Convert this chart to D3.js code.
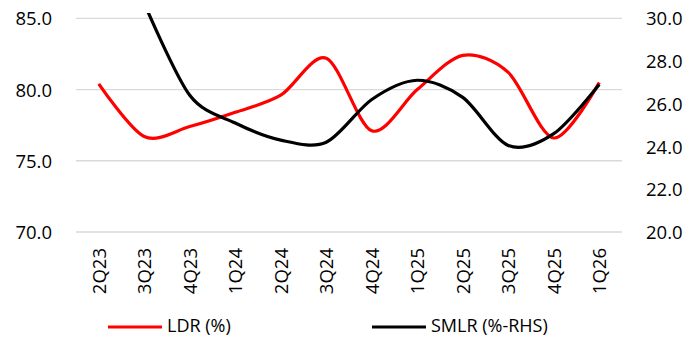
<!DOCTYPE html>
<html><head><meta charset="utf-8">
<script src="https://cdn.jsdelivr.net/npm/d3@7"></script>
<style>body{margin:0;background:#fff}text{font-family:"Open Sans","Noto Sans",sans-serif;fill:#000}</style>
</head><body><svg id="c" width="699" height="338"></svg>
<script>
const categories=["2Q23","3Q23","4Q23","1Q24","2Q24","3Q24","4Q24","1Q25","2Q25","3Q25","4Q25","1Q26"];
const ldr=[80.4,76.7,77.4,78.4,79.6,82.2,77.1,80.0,82.4,81.2,76.6,80.5];
const smlr=[null,30.7,26.4,25.1,24.3,24.2,26.2,27.1,26.3,24.05,24.6,26.9];
const leftTicks=[70,75,80,85];
const rightTicks=[20,22,24,26,28,30];
const svg=d3.select("#c");
const L=76,R=622,T=18.3,B=232;
const FS=18.5;
const x=d3.scaleBand().domain(categories).range([L,R]);
const cx=d=>x(d)+x.bandwidth()/2;
const yL=d3.scaleLinear().domain([70,85]).range([B,T]);
const yR=d3.scaleLinear().domain([20,30]).range([B,T]);
// grid
svg.append("g").selectAll("line").data(leftTicks).join("line")
 .attr("x1",L).attr("x2",R).attr("y1",d=>yL(d)).attr("y2",d=>yL(d))
 .attr("stroke","#d9d9d9").attr("stroke-width",1.3);
// left axis
const ga=svg.append("g").attr("transform",`translate(${L-21},0)`).call(d3.axisLeft(yL).tickValues(leftTicks).tickFormat(d3.format(".1f")).tickSize(0));
ga.select(".domain").remove();
ga.selectAll("text").attr("font-size",FS).attr("dy","0.36em");
const gr=svg.append("g").attr("transform",`translate(${R+21},0)`).call(d3.axisRight(yR).tickValues(rightTicks).tickFormat(d3.format(".1f")).tickSize(0));
gr.select(".domain").remove();
gr.selectAll("text").attr("font-size",FS).attr("dy","0.36em");
// x labels
svg.append("g").selectAll("text").data(categories).join("text")
 .attr("transform",d=>`translate(${cx(d)+6.8},248) rotate(-90)`)
 .attr("text-anchor","end").attr("font-size",FS).text(d=>d);
// clip
svg.append("clipPath").attr("id","clip").append("rect").attr("x",0).attr("y",13).attr("width",699).attr("height",240);
const curve=d3.curveCardinal.tension(0.1);
const lineL=d3.line().x((d,i)=>cx(categories[i])).y(d=>yL(d)).curve(curve);
const lineR=d3.line().defined(d=>d!=null).x((d,i)=>cx(categories[i])).y(d=>yR(d)).curve(curve);
svg.append("path").attr("d",lineL(ldr)).attr("fill","none").attr("stroke","#ff0000").attr("stroke-width",3.2).attr("clip-path","url(#clip)");
svg.append("path").attr("d",lineR(smlr)).attr("fill","none").attr("stroke","#000").attr("stroke-width",3.2).attr("clip-path","url(#clip)");
// legend
const leg=[{n:"LDR (%)",c:"#ff0000",x:108},{n:"SMLR (%-RHS)",c:"#000",x:372}];
const lg=svg.append("g").selectAll("g").data(leg).join("g");
lg.append("line").attr("x1",d=>d.x).attr("x2",d=>d.x+54).attr("y1",327).attr("y2",327).attr("stroke",d=>d.c).attr("stroke-width",3.2);
lg.append("text").attr("x",d=>d.x+59).attr("y",326).attr("dy","0.36em").attr("font-size",18).text(d=>d.n);
</script></body></html>
